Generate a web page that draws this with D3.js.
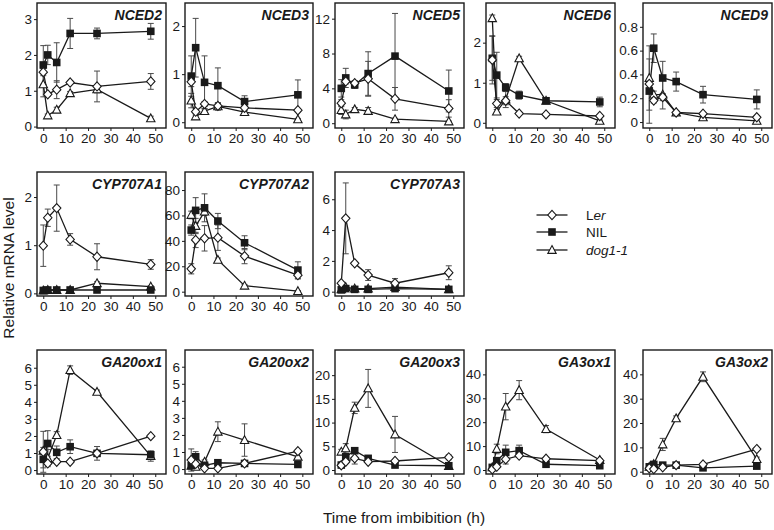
<!DOCTYPE html>
<html><head><meta charset="utf-8">
<script src="https://cdn.jsdelivr.net/npm/d3@7"></script>
<style>body{margin:0;background:#fff}svg{display:block}text{font-family:"Liberation Sans",Arial,sans-serif}</style>
</head><body><svg id="c" width="774" height="530"></svg>
<script>
// ---- data ----
const times = [0, 2, 6, 12, 24, 48];
const xTicks = [0, 10, 20, 30, 40, 50];
const seriesNames = ["Ler", "NIL", "dog1-1"];

const NCED2_Ler = [1.52, 0.9, 1.03, 1.23, 1.12, 1.26], NCED2_LerSE = [0.1, 0.05, 0.25, 0.05, 0.43, 0.22];
const NCED2_NIL = [1.72, 2.0, 1.79, 2.6, 2.6, 2.66], NCED2_NILSE = [0.54, 0.27, 0.55, 0.42, 0.15, 0.22];
const NCED2_dog = [1.18, 0.31, 0.47, 0.93, 1.04, 0.23], NCED2_dogSE = [0.35, 0.04, 0.07, 0.05, 0.1, 0.06];

const NCED3_Ler = [0.84, 0.22, 0.38, 0.34, 0.3, 0.25], NCED3_LerSE = [0.1, 0.03, 0.05, 0.05, 0.05, 0.03];
const NCED3_NIL = [0.96, 1.55, 0.83, 0.76, 0.43, 0.57], NCED3_NILSE = [0.42, 0.61, 0.55, 0.37, 0.12, 0.31];
const NCED3_dog = [0.45, 0.12, 0.23, 0.33, 0.21, 0.06], NCED3_dogSE = [0.15, 0.03, 0.05, 0.08, 0.03, 0.02];

const NCED5_Ler = [2.3, 4.8, 4.6, 5.1, 2.8, 1.7], NCED5_LerSE = [0.4, 0.3, 0.3, 2.0, 1.3, 1.0];
const NCED5_NIL = [4.0, 5.2, 4.4, 5.7, 7.7, 3.7], NCED5_NILSE = [1.0, 1.1, 0.4, 2.5, 4.9, 2.4];
const NCED5_dog = [1.5, 1.0, 1.6, 1.4, 0.46, 0.2], NCED5_dogSE = [0.5, 0.5, 0.2, 0.4, 0.1, 0.05];

const NCED6_Ler = [1.57, 0.48, 0.55, 0.23, 0.21, 0.17], NCED6_LerSE = [0.6, 0.1, 0.1, 0.03, 0.03, 0.03];
const NCED6_NIL = [1.61, 1.19, 0.88, 0.69, 0.55, 0.52], NCED6_NILSE = [0.55, 0.57, 0.1, 0.1, 0.05, 0.12];
const NCED6_dog = [2.61, 0.28, 0.58, 1.61, 0.55, 0.05], NCED6_dogSE = [0.08, 0.05, 0.2, 0.05, 0.05, 0.02];

const NCED9_Ler = [0.32, 0.18, 0.21, 0.08, 0.07, 0.04], NCED9_LerSE = [0.03, 0.02, 0.03, 0.01, 0.01, 0.01];
const NCED9_NIL = [0.26, 0.62, 0.37, 0.34, 0.23, 0.19], NCED9_NILSE = [0.27, 0.12, 0.14, 0.08, 0.07, 0.08];
const NCED9_dog = [0.37, 0.23, 0.23, 0.08, 0.04, 0.01], NCED9_dogSE = [0.27, 0.03, 0.12, 0.01, 0.01, 0.01];

const CYP707A1_Ler = [0.99, 1.57, 1.77, 1.12, 0.76, 0.6], CYP707A1_LerSE = [0.43, 0.18, 0.48, 0.12, 0.27, 0.1];
const CYP707A1_NIL = [0.06, 0.07, 0.07, 0.07, 0.07, 0.07], CYP707A1_NILSE = [0.01, 0.01, 0.01, 0.01, 0.01, 0.01];
const CYP707A1_dog = [0.06, 0.07, 0.07, 0.07, 0.21, 0.14], CYP707A1_dogSE = [0.01, 0.01, 0.01, 0.01, 0.03, 0.02];

const CYP707A2_Ler = [18, 40.7, 42, 42.5, 28, 13], CYP707A2_LerSE = [4, 6, 10, 10, 6, 3];
const CYP707A2_NIL = [48.5, 64, 66, 55.6, 38.5, 17], CYP707A2_NILSE = [4, 10, 11, 6, 5.5, 6.5];
const CYP707A2_dog = [60.4, 51.7, 63, 25, 4.7, 0.5], CYP707A2_dogSE = [3, 6, 3, 1.5, 1, 0.3];

const CYP707A3_Ler = [0.55, 4.76, 1.84, 1.08, 0.55, 1.23], CYP707A3_LerSE = [0.1, 2.3, 0.1, 0.35, 0.3, 0.45];
const CYP707A3_NIL = [0.12, 0.2, 0.15, 0.15, 0.2, 0.15], CYP707A3_NILSE = [0.02, 0.02, 0.02, 0.02, 0.02, 0.02];
const CYP707A3_dog = [0.15, 0.3, 0.2, 0.2, 0.3, 0.15], CYP707A3_dogSE = [0.02, 0.05, 0.02, 0.02, 0.05, 0.02];

const GA20ox1_Ler = [1.07, 0.39, 0.49, 0.49, 0.98, 1.99], GA20ox1_LerSE = [1.2, 0.1, 0.1, 0.05, 0.1, 0.08];
const GA20ox1_NIL = [0.63, 1.56, 1.04, 1.37, 0.98, 0.9], GA20ox1_NILSE = [0.5, 0.75, 0.37, 0.4, 0.4, 0.2];
const GA20ox1_dog = [1.13, 0.7, 2.05, 5.86, 4.59, 0.82], GA20ox1_dogSE = [0.2, 0.5, 0.2, 0.25, 0.1, 0.3];

const GA20ox2_Ler = [0.53, 0.3, 0.04, 0.04, 0.33, 1.05], GA20ox2_LerSE = [0.65, 0.1, 0.03, 0.03, 0.05, 0.1];
const GA20ox2_NIL = [0.2, 0.72, 0.22, 0.37, 0.33, 0.27], GA20ox2_NILSE = [0.15, 0.3, 0.05, 0.05, 0.05, 0.05];
const GA20ox2_dog = [0.19, 0.13, 0.43, 2.19, 1.7, 0.72], GA20ox2_dogSE = [0.1, 0.05, 0.1, 0.58, 0.95, 0.2];

const GA20ox3_Ler = [1.0, 1.75, 2.46, 1.75, 1.9, 2.67], GA20ox3_LerSE = [0.3, 0.3, 1.2, 0.3, 0.3, 0.5];
const GA20ox3_NIL = [1.05, 2.8, 4.07, 2.46, 1.05, 0.9], GA20ox3_NILSE = [0.3, 0.5, 0.5, 0.3, 0.2, 0.2];
const GA20ox3_dog = [3.86, 4.56, 13.1, 17.2, 7.5, 0.84], GA20ox3_dogSE = [0.5, 1.0, 1.2, 4.0, 3.8, 0.3];

const GA3ox1_Ler = [0.3, 1.4, 4.5, 6.0, 4.7, 3.9], GA3ox1_LerSE = [0.2, 0.5, 2.0, 0.5, 0.5, 0.3];
const GA3ox1_NIL = [1.1, 3.9, 7.4, 8.1, 2.4, 1.8], GA3ox1_NILSE = [0.3, 1.0, 3.0, 2.3, 0.5, 0.3];
const GA3ox1_dog = [1.1, 8.8, 26.5, 33.4, 17.1, 4.2], GA3ox1_dogSE = [0.3, 2.0, 5.5, 4.0, 1.5, 0.5];

const GA3ox2_Ler = [1.4, 1.1, 1.8, 2.7, 3.0, 9.3], GA3ox2_LerSE = [0.3, 0.3, 0.3, 0.3, 0.3, 0.5];
const GA3ox2_NIL = [2.0, 3.0, 2.7, 2.7, 1.6, 2.3], GA3ox2_NILSE = [0.3, 0.3, 0.3, 0.3, 0.3, 0.3];
const GA3ox2_dog = [2.0, 3.1, 11.2, 21.9, 39.0, 5.2], GA3ox2_dogSE = [0.3, 0.5, 2.5, 1.0, 2.0, 0.8];

// y tick labels per panel
const NCED2_yTicks = [0, 1, 2, 3], NCED3_yTicks = [0, 1, 2], NCED5_yTicks = [0, 4, 8, 12];
const NCED6_yTicks = [0, 1, 2], NCED9_yTicks = [0, 0.2, 0.4, 0.6, 0.8];
const CYP707A1_yTicks = [0, 1, 2], CYP707A2_yTicks = [0, 20, 40, 60, 80], CYP707A3_yTicks = [0, 2, 4, 6];
const GA20ox1_yTicks = [0, 1, 2, 3, 4, 5, 6], GA20ox2_yTicks = [0, 1, 2, 3, 4, 5, 6];
const GA20ox3_yTicks = [0, 5, 10, 15, 20], GA3ox1_yTicks = [0, 10, 20, 30, 40], GA3ox2_yTicks = [0, 10, 20, 30, 40];

// ---- layout (positions only) ----
const cols = [[37, 166], [185, 313], [335, 464], [486, 615], [643, 772]];
const rows = [[3, 128], [172, 296], [350, 474]];
const panels = [
  {g: "NCED2", c: 0, r: 0, yd: [-0.04, 3.45], ler: NCED2_Ler, lerSE: NCED2_LerSE, nil: NCED2_NIL, nilSE: NCED2_NILSE, dog: NCED2_dog, dogSE: NCED2_dogSE, yt: NCED2_yTicks},
  {g: "NCED3", c: 1, r: 0, yd: [-0.12, 2.48], ler: NCED3_Ler, lerSE: NCED3_LerSE, nil: NCED3_NIL, nilSE: NCED3_NILSE, dog: NCED3_dog, dogSE: NCED3_dogSE, yt: NCED3_yTicks},
  {g: "NCED5", c: 2, r: 0, yd: [-0.55, 13.8], ler: NCED5_Ler, lerSE: NCED5_LerSE, nil: NCED5_NIL, nilSE: NCED5_NILSE, dog: NCED5_dog, dogSE: NCED5_dogSE, yt: NCED5_yTicks},
  {g: "NCED6", c: 3, r: 0, yd: [-0.13, 2.99], ler: NCED6_Ler, lerSE: NCED6_LerSE, nil: NCED6_NIL, nilSE: NCED6_NILSE, dog: NCED6_dog, dogSE: NCED6_dogSE, yt: NCED6_yTicks},
  {g: "NCED9", c: 4, r: 0, yd: [-0.05, 1.0], ler: NCED9_Ler, lerSE: NCED9_LerSE, nil: NCED9_NIL, nilSE: NCED9_NILSE, dog: NCED9_dog, dogSE: NCED9_dogSE, yt: NCED9_yTicks, fmt: d => d === 0 ? "0" : d.toFixed(1)},
  {g: "CYP707A1", c: 0, r: 1, yd: [-0.055, 2.52], ler: CYP707A1_Ler, lerSE: CYP707A1_LerSE, nil: CYP707A1_NIL, nilSE: CYP707A1_NILSE, dog: CYP707A1_dog, dogSE: CYP707A1_dogSE, yt: CYP707A1_yTicks},
  {g: "CYP707A2", c: 1, r: 1, yd: [-3.4, 94.2], ler: CYP707A2_Ler, lerSE: CYP707A2_LerSE, nil: CYP707A2_NIL, nilSE: CYP707A2_NILSE, dog: CYP707A2_dog, dogSE: CYP707A2_dogSE, yt: CYP707A2_yTicks},
  {g: "CYP707A3", c: 2, r: 1, yd: [-0.28, 7.77], ler: CYP707A3_Ler, lerSE: CYP707A3_LerSE, nil: CYP707A3_NIL, nilSE: CYP707A3_NILSE, dog: CYP707A3_dog, dogSE: CYP707A3_dogSE, yt: CYP707A3_yTicks},
  {g: "GA20ox1", c: 0, r: 2, yd: [-0.23, 7.04], ler: GA20ox1_Ler, lerSE: GA20ox1_LerSE, nil: GA20ox1_NIL, nilSE: GA20ox1_NILSE, dog: GA20ox1_dog, dogSE: GA20ox1_dogSE, yt: GA20ox1_yTicks},
  {g: "GA20ox2", c: 1, r: 2, yd: [-0.29, 6.98], ler: GA20ox2_Ler, lerSE: GA20ox2_LerSE, nil: GA20ox2_NIL, nilSE: GA20ox2_NILSE, dog: GA20ox2_dog, dogSE: GA20ox2_dogSE, yt: GA20ox2_yTicks},
  {g: "GA20ox3", c: 2, r: 2, yd: [-0.84, 25.3], ler: GA20ox3_Ler, lerSE: GA20ox3_LerSE, nil: GA20ox3_NIL, nilSE: GA20ox3_NILSE, dog: GA20ox3_dog, dogSE: GA20ox3_dogSE, yt: GA20ox3_yTicks},
  {g: "GA3ox1", c: 3, r: 2, yd: [-1.67, 50.2], ler: GA3ox1_Ler, lerSE: GA3ox1_LerSE, nil: GA3ox1_NIL, nilSE: GA3ox1_NILSE, dog: GA3ox1_dog, dogSE: GA3ox1_dogSE, yt: GA3ox1_yTicks},
  {g: "GA3ox2", c: 4, r: 2, yd: [-0.94, 50.0], ler: GA3ox2_Ler, lerSE: GA3ox2_LerSE, nil: GA3ox2_NIL, nilSE: GA3ox2_NILSE, dog: GA3ox2_dog, dogSE: GA3ox2_dogSE, yt: GA3ox2_yTicks}
];

const svg = d3.select("#c");
const INK = "#1a1a1a", ERR = "#4a4a4a";

function marker(sel, type) {
  if (type === "Ler") {
    sel.append("path").attr("d", "M0,-4.6L4.2,0L0,4.6L-4.2,0Z").attr("fill", "#fff").attr("stroke", INK).attr("stroke-width", 1.1);
  } else if (type === "NIL") {
    sel.append("rect").attr("x", -3.8).attr("y", -3.8).attr("width", 7.6).attr("height", 7.6).attr("fill", INK);
  } else {
    sel.append("path").attr("d", "M0,-4.4L4.2,3.4L-4.2,3.4Z").attr("fill", "#fff").attr("stroke", INK).attr("stroke-width", 1.1);
  }
}

panels.forEach(p => {
  const [x0, x1] = cols[p.c], [y0, y1] = rows[p.r];
  const x = d3.scaleLinear().domain([-2.8, 54.8]).range([x0, x1]);
  const y = d3.scaleLinear().domain(p.yd).range([y1, y0]);
  const g = svg.append("g");

  const ya = g.append("g").attr("transform", `translate(${x0},0)`)
    .call(d3.axisLeft(y).tickValues(p.yt).tickSize(3).tickPadding(2).tickFormat(p.fmt || d3.format("d")));
  const xa = g.append("g").attr("transform", `translate(0,${y1})`)
    .call(d3.axisBottom(x).tickValues(xTicks).tickSize(3).tickPadding(2).tickFormat(d3.format("d")));
  [ya, xa].forEach(a => {
    a.select(".domain").remove();
    a.selectAll("line").attr("stroke", INK).attr("stroke-width", 1);
    a.selectAll("text").attr("fill", INK).style("font-size", "13.5px").style("font-family", '"Liberation Sans",Arial,sans-serif');
  });

  const series = [
    {name: "Ler", v: p.ler, e: p.lerSE},
    {name: "NIL", v: p.nil, e: p.nilSE},
    {name: "dog1-1", v: p.dog, e: p.dogSE}
  ];
  // error bars
  series.forEach(s => {
    s.v.forEach((v, i) => {
      const e = s.e[i]; if (!e) return;
      const cx = x(times[i]), ya_ = y(v + e), yb = y(v - e);
      g.append("line").attr("x1", cx).attr("x2", cx).attr("y1", ya_).attr("y2", yb).attr("stroke", ERR).attr("stroke-width", 1);
      [ya_, yb].forEach(yy => g.append("line").attr("x1", cx - 3).attr("x2", cx + 3).attr("y1", yy).attr("y2", yy).attr("stroke", ERR).attr("stroke-width", 1));
    });
  });
  // lines
  const line = d3.line().x((d, i) => x(times[i])).y(d => y(d));
  series.forEach(s => {
    g.append("path").attr("d", line(s.v)).attr("fill", "none").attr("stroke", INK).attr("stroke-width", 1.3);
  });
  // markers
  series.slice().reverse().forEach(s => {
    s.v.forEach((v, i) => {
      const m = g.append("g").attr("transform", `translate(${x(times[i])},${y(v)})`);
      marker(m, s.name);
    });
  });
  // frame
  g.append("rect").attr("x", x0).attr("y", y0).attr("width", x1 - x0).attr("height", y1 - y0)
    .attr("fill", "none").attr("stroke", INK).attr("stroke-width", 1.4);
  // title
  g.append("text").attr("x", x1 - 4).attr("y", y0 + 17).attr("text-anchor", "end")
    .style("font-size", "14px").style("font-weight", "bold").style("font-style", "italic").attr("fill", INK).text(p.g);
});

// legend
const legY = [215, 232, 250];
seriesNames.forEach((n, i) => {
  const lg = svg.append("g").attr("transform", `translate(552,${legY[i]})`);
  lg.append("line").attr("x1", -15.5).attr("x2", 15.5).attr("stroke", INK).attr("stroke-width", 1.3);
  marker(lg, n);
  const t = svg.append("text").attr("x", 586).attr("y", legY[i] + 5).style("font-size", "13.5px").attr("fill", INK);
  if (n === "Ler") { t.append("tspan").text("L"); t.append("tspan").style("font-style", "italic").text("er"); }
  else if (n === "NIL") t.text("NIL");
  else t.style("font-style", "italic").text(n);
});

// axis titles
svg.append("text").attr("transform", "translate(14,268) rotate(-90)").attr("text-anchor", "middle")
  .style("font-size", "15.5px").attr("fill", INK).text("Relative mRNA level");
svg.append("text").attr("x", 404).attr("y", 523).attr("text-anchor", "middle")
  .style("font-size", "15.5px").attr("fill", INK).text("Time from imbibition (h)");
</script></body></html>
